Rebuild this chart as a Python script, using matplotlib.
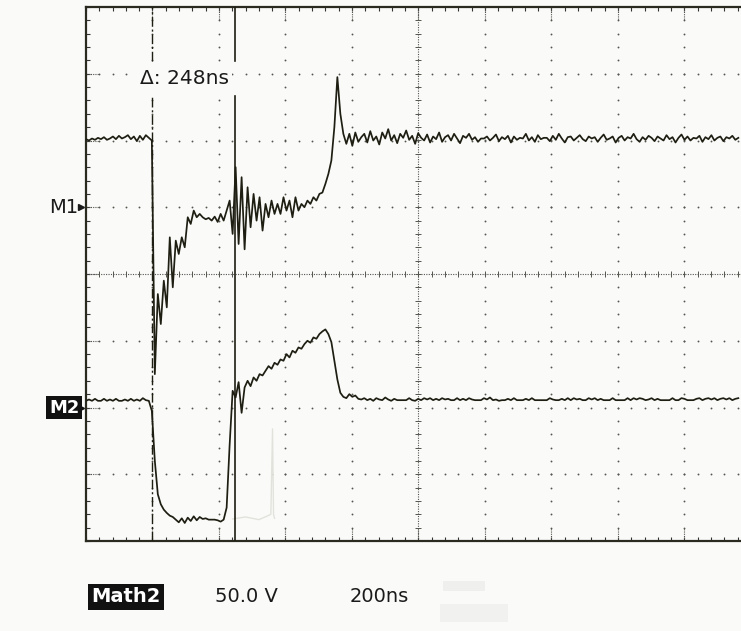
import numpy as np
import matplotlib
matplotlib.use('Agg')
import matplotlib.pyplot as plt
from matplotlib.patches import Rectangle

# scope settings
ns_per_div = 200
sample_ns = 9
cursor_a = 200
cursor_b = 448
delta_label = '\u0394: 248ns'
m1_level = 1.0
m2_level = -2.0

# channel M1 (upper trace), screen divisions from centre
m1_pre = [2.02, 2.0, 2.03, 2.01, 2.04, 2.02, 2.05, 2.01, 2.03, 2.06, 2.02,
          2.07, 2.03, 2.05, 2.08, 2.02, 2.06, 1.99, 2.07, 2.01, 2.08, 2.04]
m1_event = [2.0, -1.5, -0.3, -0.75, -0.1, -0.5, 0.55, -0.2, 0.5, 0.3,
            0.55, 0.4, 0.85, 0.75, 0.95, 0.85, 0.9, 0.85, 0.82, 0.84,
            0.8, 0.86, 0.78, 0.9, 0.8, 0.95, 1.1, 0.6, 1.6, 0.45,
            1.45, 0.37, 1.3, 0.7, 1.2, 0.8, 1.15, 0.65, 1.05, 0.85,
            1.1, 0.9, 1.05, 0.9, 1.15, 0.95, 1.1, 0.85, 1.15, 0.95,
            1.05, 1.0, 1.1, 1.05, 1.15, 1.1, 1.2, 1.22, 1.35, 1.5,
            1.7, 2.2, 2.95, 2.4, 2.1, 1.95, 2.1, 1.92, 2.12, 1.98]
m1_tail = [2.05, 2.1, 1.97, 2.14, 2.0, 2.06, 1.94, 2.12, 2.03, 2.17,
           2.0, 2.08, 1.96, 2.1, 2.04, 2.15, 2.01, 2.07, 1.95, 2.11,
           2.04, 2.0, 2.09, 1.97, 2.06, 2.02, 2.12, 1.98, 2.05, 2.08,
           2.0, 2.1, 2.03, 1.96, 2.07, 2.04, 2.1, 2.01, 2.05, 1.98,
           2.03, 2.03, 2.06, 2.0, 2.04, 2.09, 1.99, 2.05, 2.02, 2.07,
           1.97, 2.06, 2.01, 2.04, 2.03, 2.1, 2.0, 2.05, 1.98, 2.08,
           2.02, 2.04, 2.04, 1.99, 2.07, 2.01, 2.1, 2.03, 1.97, 2.05,
           2.06, 2.0, 2.04, 2.08, 2.02, 1.99, 2.06, 2.03, 2.05, 1.98,
           2.04, 2.09, 2.01, 2.03, 2.06, 1.97, 2.04, 2.07, 2.0, 2.05,
           2.03, 2.1, 2.02, 1.98, 2.05, 2.01, 2.07, 2.04, 1.99, 2.06,
           2.03, 2.0, 2.08, 2.02, 2.05, 1.97, 2.04, 2.09, 2.01, 2.06,
           2.0, 2.04, 2.03, 2.07, 1.98, 2.05, 2.02, 2.08, 2.0, 2.04,
           2.06, 1.99, 2.05, 2.03, 2.07, 2.01, 2.04]

# channel M2 (lower trace)
m2_pre = [-1.9, -1.88, -1.9, -1.87, -1.9, -1.9, -1.87, -1.9, -1.88, -1.9, -1.87,
          -1.9, -1.9, -1.88, -1.9, -1.87, -1.9, -1.88, -1.9, -1.86, -1.89, -1.9]
m2_event = [-2.05, -2.8, -3.3, -3.45, -3.53, -3.58, -3.62, -3.64, -3.68, -3.72,
            -3.66, -3.73, -3.65, -3.7, -3.63, -3.69, -3.64, -3.67, -3.66, -3.68,
            -3.68, -3.68, -3.69, -3.71, -3.68, -3.5, -2.56, -1.75, -1.85, -1.62,
            -2.08, -1.7, -1.6, -1.68, -1.55, -1.6, -1.5, -1.52, -1.45, -1.38,
            -1.42, -1.33, -1.36, -1.28, -1.3, -1.2, -1.25, -1.15, -1.18, -1.1,
            -1.12, -1.05, -1.0, -1.03, -0.95, -0.97, -0.9, -0.86, -0.83, -0.9,
            -1.02, -1.3, -1.58, -1.78, -1.84, -1.86, -1.8, -1.84, -1.82, -1.87]
m2_tail = [-1.88, -1.86, -1.89, -1.87, -1.9, -1.86, -1.88, -1.89, -1.85, -1.88,
           -1.9, -1.87, -1.89, -1.89, -1.89, -1.89, -1.86, -1.89, -1.9, -1.87,
           -1.89, -1.86, -1.88, -1.86, -1.89, -1.87, -1.89, -1.86, -1.88, -1.87,
           -1.89, -1.89, -1.86, -1.89, -1.87, -1.89, -1.86, -1.88, -1.89, -1.89,
           -1.89, -1.86, -1.88, -1.85, -1.89, -1.88, -1.9, -1.89, -1.89, -1.87,
           -1.89, -1.86, -1.89, -1.89, -1.89, -1.87, -1.89, -1.86, -1.89, -1.89,
           -1.89, -1.89, -1.89, -1.86, -1.88, -1.89, -1.89, -1.87, -1.89, -1.86,
           -1.89, -1.86, -1.88, -1.87, -1.89, -1.89, -1.86, -1.88, -1.86, -1.89,
           -1.87, -1.89, -1.89, -1.89, -1.86, -1.89, -1.89, -1.89, -1.89, -1.86,
           -1.89, -1.86, -1.88, -1.86, -1.87, -1.89, -1.88, -1.86, -1.89, -1.87,
           -1.89, -1.89, -1.89, -1.89, -1.86, -1.89, -1.89, -1.86, -1.87, -1.89,
           -1.89, -1.89, -1.87, -1.86, -1.89, -1.87, -1.86, -1.88, -1.86, -1.89,
           -1.87, -1.86, -1.88, -1.86, -1.89, -1.87, -1.86]

# faint ghost trace left on the screen
ghost_t = [441, 480, 520, 543, 556, 561, 564, 567]
ghost_y = [-3.67, -3.64, -3.68, -3.63, -3.6, -2.32, -3.6, -3.66]

m1 = np.array(m1_pre + m1_event + m1_tail)
m2 = np.array(m2_pre + m2_event + m2_tail)
t = np.arange(len(m1)) * sample_ns

ink = '#1e1e12'
dots = '#55554f'
paper = '#fafaf9'

fig = plt.figure(figsize=(7.41, 6.31), dpi=100, facecolor=paper)
ax = fig.add_axes([86 / 741, (631 - 541) / 631, (741 - 86) / 741, (541 - 7) / 631])
ax.set_facecolor(paper)
ax.set_xlim(0, 1970)
ax.set_ylim(-4, 4)

# graticule
minor_t = np.arange(0, 1970, ns_per_div / 5)
minor_y = np.arange(-4, 4.01, 0.2)
for k in range(1, 10):
    if k == 5:
        continue
    ax.scatter(np.full(minor_y.size, k * ns_per_div), minor_y, s=1.8, color=dots, lw=0, zorder=1)
for j in [-3, -2, -1, 1, 2, 3]:
    ax.scatter(minor_t, np.full(minor_t.size, j), s=1.8, color=dots, lw=0, zorder=1)
# centre lines with cross ticks
ax.axvline(1000, ls=(0, (1, 1.2)), lw=0.8, color=dots, zorder=1)
ax.axhline(0, ls=(0, (1, 1.2)), lw=0.8, color=dots, zorder=1)
ax.scatter(np.full(minor_y.size, 1000), minor_y, marker='_', s=18, lw=0.7, color=dots, zorder=1)
ax.scatter(minor_t, np.zeros(minor_t.size), marker='|', s=18, lw=0.7, color=dots, zorder=1)
# dense marks where gridlines meet the border
for k in range(1, 10):
    ax.plot([k * ns_per_div] * 2, [4, 3.8], ls=(0, (1, 1)), lw=0.8, color=dots)
    ax.plot([k * ns_per_div] * 2, [-4, -3.8], ls=(0, (1, 1)), lw=0.8, color=dots)
for j in [-3, -2, -1, 0, 1, 2, 3]:
    ax.plot([0, 40], [j, j], ls=(0, (1, 1)), lw=0.8, color=dots)

for side in ['top', 'left', 'bottom']:
    ax.spines[side].set_color('#2a2a20')
    ax.spines[side].set_linewidth(1.6)
ax.spines['right'].set_visible(False)
ax.set_xticks(np.arange(0, 1970, ns_per_div))
ax.set_xticks(minor_t, minor=True)
ax.set_yticks(np.arange(-4, 4.01, 1))
ax.set_yticks(minor_y, minor=True)
ax.tick_params(which='both', direction='in', length=3, width=0.8, color='#333',
               top=True, bottom=True, left=True, right=False,
               labelbottom=False, labelleft=False)

# ghost
ax.plot(ghost_t, ghost_y, color='#e2e2dc', lw=1.0, zorder=2)

# traces
ax.plot(t, m1, color=ink, lw=1.25, zorder=4)
ax.plot(t, m2, color=ink, lw=1.25, zorder=4)

# cursors with a gap around the readout
gap_lo, gap_hi = 2.67, 3.19
ax.plot([cursor_a, cursor_a], [-4, gap_lo], color=ink, lw=1.0, ls=(0, (7, 2, 1.5, 2)), zorder=3)
ax.plot([cursor_a, cursor_a], [gap_hi, 4], color=ink, lw=1.0, ls=(0, (7, 2, 1.5, 2)), zorder=3)
ax.plot([cursor_b, cursor_b], [-4, gap_lo], color=ink, lw=1.2, zorder=3)
ax.plot([cursor_b, cursor_b], [gap_hi, 4], color=ink, lw=1.2, zorder=3)
ax.text(162, 2.93, delta_label, fontsize=14.5, color='#1a1a1a', va='center', ha='left',
        zorder=5, bbox=dict(facecolor=paper, edgecolor='none', pad=2.5))

# channel markers
ax.text(-22, m1_level, 'M1', fontsize=14, color='#1a1a1a', ha='right', va='center', clip_on=False)
ax.plot([-14], [m1_level], marker='>', ms=4, color='#1a1a1a', clip_on=False)
ax.text(-20, m2_level, 'M2', fontsize=13, color='white', ha='right', va='center', clip_on=False,
        fontweight='bold', bbox=dict(facecolor='#111', edgecolor='none', pad=2.0))
ax.plot([-14], [m2_level], marker='>', ms=4, color='#111', clip_on=False)

# readout line under the screen
fig.text(91 / 741, 1 - 597 / 631, 'Math2', fontsize=14, color='white', fontweight='bold',
         va='center', ha='left', bbox=dict(facecolor='#111', edgecolor='none', pad=2.5))
fig.text(215 / 741, 1 - 597 / 631, '50.0 V', fontsize=14, color='#1a1a1a', va='center', ha='left')
fig.text(350 / 741, 1 - 597 / 631, '200ns', fontsize=14, color='#1a1a1a', va='center', ha='left')

# faint screen reflections in the photo
fig.patches.append(Rectangle((443 / 741, 1 - 591 / 631), 42 / 741, 10 / 631,
                             transform=fig.transFigure, facecolor='#efefee', edgecolor='none'))
fig.patches.append(Rectangle((440 / 741, 1 - 622 / 631), 68 / 741, 18 / 631,
                             transform=fig.transFigure, facecolor='#f1f1f0', edgecolor='none'))

fig.savefig('out.png', dpi=100, facecolor=fig.get_facecolor())
